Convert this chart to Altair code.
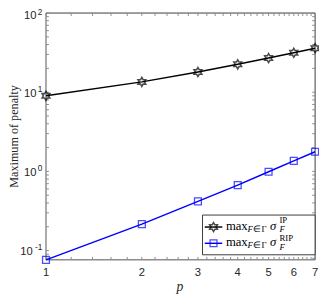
import altair as alt
import pandas as pd

# ---------------- data ----------------
p_values = [1, 2, 3, 4, 5, 6, 7]
ip_values = [9.0, 13.5, 18.0, 22.5, 27.0, 31.5, 36.0]
rip_values = [0.0764, 0.216, 0.418, 0.671, 0.99, 1.36, 1.77]
x_tick_labels = ["1", "2", "3", "4", "5", "6", "7"]
y_major = [0.1, 1, 10, 100]
y_exponents = ["-1", "0", "1", "2"]
x_minor = [1.2, 1.4, 1.6, 1.8, 2.2, 2.4, 2.6, 2.8, 3.2, 3.4, 3.6, 3.8,
           4.2, 4.4, 4.6, 4.8, 5.2, 5.4, 5.6, 5.8, 6.2, 6.4, 6.6, 6.8]
y_minor = [0.08, 0.09, 0.2, 0.3, 0.4, 0.5, 0.6, 0.7, 0.8, 0.9,
           2, 3, 4, 5, 6, 7, 8, 9, 20, 30, 40, 50, 60, 70, 80, 90]

W, H = 276.3, 253.4
GRAY = "#8c8c8c"
DARK = "#3a3a3a"
SERIF = "Liberation Serif"
SANS = "Liberation Sans"

xs = alt.Scale(type="log", domain=[1, 7], nice=False)
ys = alt.Scale(type="log", domain=[0.0764, 100], nice=False)

df_ip = pd.DataFrame({"p": p_values, "v": ip_values})
df_rip = pd.DataFrame({"p": p_values, "v": rip_values})
df_xt = pd.DataFrame({"p": p_values + x_minor})
df_yt = pd.DataFrame({"v": y_major + y_minor})
df_xl = pd.DataFrame({"p": p_values, "t": x_tick_labels})
df_yl = pd.DataFrame({"v": y_major, "e": y_exponents})
one = alt.Data(values=[{"a": 1}])

X = lambda: alt.X("p:Q", scale=xs, axis=None)
Y = lambda: alt.Y("v:Q", scale=ys, axis=None)

hexagram = ("M0,-1 L0.289,-0.5 L0.866,-0.5 L0.577,0 L0.866,0.5 L0.289,0.5 "
            "L0,1 L-0.289,0.5 L-0.866,0.5 L-0.577,0 L-0.866,-0.5 L-0.289,-0.5 Z")

# ---------------- frame & ticks ----------------
def frame_line(color, width, **enc):
    return alt.Chart(one).mark_rule(color=color, strokeWidth=width).encode(**enc)

frame = [
    frame_line(GRAY, 1.5, x=alt.value(0), y=alt.value(0), y2=alt.value(H)),
    frame_line(GRAY, 1.5, x=alt.value(0), x2=alt.value(W), y=alt.value(H)),
    frame_line(DARK, 1, x=alt.value(0), x2=alt.value(W), y=alt.value(0)),
    frame_line(DARK, 1, x=alt.value(W), y=alt.value(0), y2=alt.value(H)),
]
TL = 3
ticks = [
    alt.Chart(df_xt).mark_rule(color=GRAY, strokeWidth=1).encode(x=X(), y=alt.value(H), y2=alt.value(H - TL)),
    alt.Chart(df_xt).mark_rule(color=GRAY, strokeWidth=1).encode(x=X(), y=alt.value(0), y2=alt.value(TL)),
    alt.Chart(df_yt).mark_rule(color=GRAY, strokeWidth=1).encode(y=Y(), x=alt.value(0), x2=alt.value(TL)),
    alt.Chart(df_yt).mark_rule(color=GRAY, strokeWidth=1).encode(y=Y(), x=alt.value(W), x2=alt.value(W - TL)),
]

# ---------------- tick labels & titles ----------------
TXT = "#262626"
xlabels = alt.Chart(df_xl).mark_text(font=SANS, fontSize=11.5, baseline="middle", align="center", color=TXT).encode(
    x=X(), y=alt.value(H + 13.3), text="t:N")

def ylab(filt, xpos, dy10, dyexp):
    base = alt.Chart(df_yl).transform_filter(filt)
    ten = base.mark_text(font=SANS, fontSize=11.5, baseline="middle", align="right", dy=dy10, color=TXT).encode(
        y=Y(), x=alt.value(xpos), text=alt.value("10"))
    ex = base.mark_text(font=SANS, fontSize=8.5, baseline="middle", align="right", dy=dyexp, color=TXT).encode(
        y=Y(), x=alt.value(-3.7), text="e:N")
    return [ten, ex]

ylabels = (ylab((alt.datum.e != "-1") & (alt.datum.e != "2"), -9.7, 1.5, -3.5)
           + ylab(alt.datum.e == "-1", -13.7, 1.5, -3.5)
           + ylab(alt.datum.e == "2", -9.7, 3.5, -1.0))

ytitle = alt.Chart(one).mark_text(font=SERIF, fontSize=12.5, angle=270, baseline="middle", align="center", color=TXT).encode(
    x=alt.value(-32.5), y=alt.value(H / 2), text=alt.value("Maximum of penalty"))
xtitle = alt.Chart(one).mark_text(font=SERIF, fontSize=14, fontStyle="italic", baseline="alphabetic", align="center", color=TXT).encode(
    x=alt.value(137.5), y=alt.value(285), text=alt.value("p"))

# ---------------- data series ----------------
ip_line = alt.Chart(df_ip).mark_line(color="black", strokeWidth=1.5).encode(x=X(), y=Y())
ip_pts = alt.Chart(df_ip).mark_point(shape=hexagram, size=85, color="black", filled=False, strokeWidth=1.6).encode(x=X(), y=Y())
rip_line = alt.Chart(df_rip).mark_line(color="#0000ff", strokeWidth=1.5).encode(x=X(), y=Y())
rip_pts = alt.Chart(df_rip).mark_point(shape="square", size=50, color="#0000ff", filled=False, strokeWidth=1.3).encode(x=X(), y=Y())

# ---------------- legend ----------------
LX1, LX2, LY1, LY2 = 160.7, W, 207.4, 248.2
R1, R2 = 219.7, 236.4
legend = [
    alt.Chart(one).mark_rect(fill="white", stroke=DARK, strokeWidth=1).encode(
        x=alt.value(LX1), x2=alt.value(LX2), y=alt.value(LY1), y2=alt.value(LY2)),
    alt.Chart(one).mark_rule(color="black", strokeWidth=1.5).encode(x=alt.value(163), x2=alt.value(181), y=alt.value(R1)),
    alt.Chart(one).mark_point(shape=hexagram, size=85, color="black", filled=False, strokeWidth=1.6).encode(x=alt.value(172), y=alt.value(R1)),
    alt.Chart(one).mark_rule(color="#0000ff", strokeWidth=1.5).encode(x=alt.value(163), x2=alt.value(181), y=alt.value(R2)),
    alt.Chart(one).mark_point(shape="square", size=50, color="#0000ff", filled=False, strokeWidth=1.3).encode(x=alt.value(172), y=alt.value(R2)),
]

def ltext(txt, x, y, size, style="normal"):
    return alt.Chart(one).mark_text(font=SERIF, fontSize=size, fontStyle=style, baseline="alphabetic", align="left", color="black").encode(
        x=alt.value(x), y=alt.value(y), text=alt.value(txt))

for base, sup, sup_dy, sub_dy in [(R1 + 2.7, "IP", -6.7, 2.3), (R2 + 2.8, "RIP", -5.0, 3.6)]:
    legend += [
        ltext("max", 184.7, base, 13),
        ltext("F", 207.0, base + 2.5, 9, "italic"),
        ltext("∈Γ", 213.0, base + 2.5, 9),
        ltext("σ", 230.0, base, 13, "italic"),
        ltext(sup, 239.7, base + sup_dy, 9),
        ltext("F", 239.7, base + sub_dy, 9, "italic"),
    ]

chart = alt.layer(
    *frame, *ticks, xlabels, *ylabels, ytitle, xtitle,
    ip_line, rip_line, ip_pts, rip_pts, *legend
).properties(
    width=W, height=H,
    autosize=alt.AutoSizeParams(type="none"),
    padding={"left": 39, "top": 1.3, "right": 4, "bottom": 36},
).configure_view(stroke=None)

chart.save("out.html", embed_options={"renderer": "svg", "actions": False})
